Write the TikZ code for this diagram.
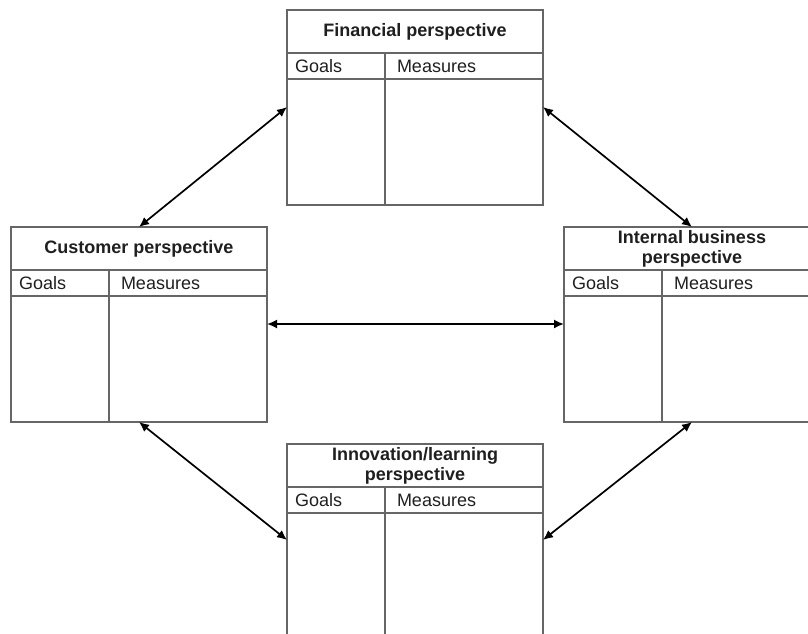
\documentclass[tikz,border=0pt]{standalone}
\usepackage{fontspec}
\setmainfont{Liberation Sans}
\usetikzlibrary{positioning,arrows.meta}
\definecolor{framegray}{gray}{0.4}
\definecolor{textgray}{gray}{0.12}
\tikzset{
cell_line/.style={rectangle, draw=framegray, line width=1.3pt, outer sep=0pt, text=textgray},
title_cell/.style={cell_line, minimum width=256pt, minimum height=43pt, inner ysep=1pt, align=center, font=\fontsize{18}{20}\selectfont\bfseries},
goals_cell/.style={cell_line, minimum height=26pt, inner xsep=8pt, text width=82pt, align=left, font=\fontsize{18}{20}\selectfont},
measures_cell/.style={cell_line, minimum height=26pt, inner xsep=12pt, text width=134pt, align=left, font=\fontsize{18}{20}\selectfont},
goals_body/.style={cell_line, minimum width=98pt, minimum height=126pt},
measures_body/.style={cell_line, minimum width=158pt, minimum height=126pt},
link_arrow/.style={{Latex[length=10pt,width=9pt]}-{Latex[length=10pt,width=9pt]}, line width=1.7pt, black}
}

\begin{document}
\begin{tikzpicture}[x=1pt, y=-1pt]
    \useasboundingbox (0,0) rectangle (808,633);
    \clip (0,0) rectangle (808,633);
    % financial
    \node[title_cell, anchor=north west] (fin_title) at (287,10) {Financial perspective};
    \node[goals_cell, below=0 of fin_title.south west, anchor=north west] (fin_goals) {Goals};
    \node[measures_cell, right=0 of fin_goals] (fin_meas) {Measures};
    \node[goals_body, below=0 of fin_goals] (fin_goalsb) {};
    \node[measures_body, below=0 of fin_meas] (fin_measb) {};
    % customer
    \node[title_cell, anchor=north west] (cust_title) at (11,227) {Customer perspective};
    \node[goals_cell, below=0 of cust_title.south west, anchor=north west] (cust_goals) {Goals};
    \node[measures_cell, right=0 of cust_goals] (cust_meas) {Measures};
    \node[goals_body, below=0 of cust_goals] (cust_goalsb) {};
    \node[measures_body, below=0 of cust_meas] (cust_measb) {};
    % internal business
    \node[title_cell, anchor=north west] (int_title) at (564,227) {Internal business\\perspective};
    \node[goals_cell, below=0 of int_title.south west, anchor=north west] (int_goals) {Goals};
    \node[measures_cell, right=0 of int_goals] (int_meas) {Measures};
    \node[goals_body, below=0 of int_goals] (int_goalsb) {};
    \node[measures_body, below=0 of int_meas] (int_measb) {};
    % innovation
    \node[title_cell, anchor=north west] (inn_title) at (287,444) {Innovation/learning\\perspective};
    \node[goals_cell, below=0 of inn_title.south west, anchor=north west] (inn_goals) {Goals};
    \node[measures_cell, right=0 of inn_goals] (inn_meas) {Measures};
    \node[goals_body, below=0 of inn_goals] (inn_goalsb) {};
    \node[measures_body, below=0 of inn_meas] (inn_measb) {};
    % links
    \draw[link_arrow] ([yshift=-28pt]fin_goalsb.north west) -- (cust_title.north);
    \draw[link_arrow] ([yshift=-28pt]fin_measb.north east) -- (int_title.north);
    \draw[link_arrow] ([yshift=-28pt]cust_measb.north east) -- ([yshift=-28pt]int_goalsb.north west);
    \draw[link_arrow] (cust_title.north |- cust_measb.south) -- ([yshift=-27pt]inn_goalsb.north west);
    \draw[link_arrow] (int_title.north |- int_measb.south) -- ([yshift=-27pt]inn_measb.north east);
\end{tikzpicture}
\end{document}
